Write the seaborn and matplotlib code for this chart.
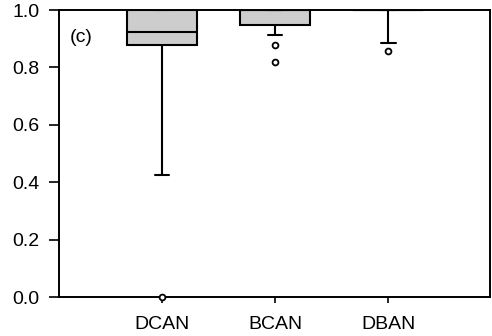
import matplotlib
matplotlib.use("Agg")
import matplotlib.pyplot as plt
import seaborn as sns
import pandas as pd

# Per-compound ratio samples
dcan = [0.0, 0.425, 0.87, 0.90, 0.91, 0.938, 1.0, 1.0, 1.0, 1.0]
bcan = [0.819, 0.878, 0.913, 0.93, 0.946, 0.95,
        1.0, 1.0, 1.0, 1.0, 1.0, 1.0, 1.0, 1.0, 1.0, 1.0, 1.0, 1.0, 1.0, 1.0]
dban = [0.857, 0.885, 1.0, 1.0, 1.0, 1.0, 1.0, 1.0, 1.0, 1.0]

categories = ["DCAN", "BCAN", "DBAN"]
y_ticks = [0.0, 0.2, 0.4, 0.6, 0.8, 1.0]
panel_label = "(c)"

df = pd.DataFrame({
    "compound": ["DCAN"] * len(dcan) + ["BCAN"] * len(bcan) + ["DBAN"] * len(dban),
    "value": dcan + bcan + dban,
})

sns.set_style("ticks")
plt.rcParams["font.family"] = ["Liberation Sans", "DejaVu Sans"]

fig = plt.figure(figsize=(4.92, 3.36), dpi=100)
ax = fig.add_axes([0.12, 0.116, 0.876, 0.854])

lw = 1.5
sns.boxplot(
    data=df, x="compound", y="value", order=categories,
    color="#cdcdcd", saturation=1, width=0.62, whis=(10, 90),
    linewidth=lw, linecolor="black", ax=ax,
    capwidths=0.13,
    flierprops=dict(marker="o", markersize=4.2, markerfacecolor="white",
                    markeredgecolor="black", markeredgewidth=1.3),
    medianprops=dict(color="black", linewidth=lw),
)

# keep outlier markers whole where they sit on the frame
for line in ax.lines:
    if line.get_marker() == "o":
        line.set_clip_on(False)
        line.set_zorder(5)

ax.set_ylim(0, 1.0)
ax.set_xlim(-0.91, 2.9)
ax.set_yticks(y_ticks)
ax.set_yticklabels([f"{t:.1f}" for t in y_ticks])
ax.set_xlabel("")
ax.set_ylabel("")

for s in ax.spines.values():
    s.set_visible(True)
    s.set_linewidth(1.4)
    s.set_color("black")

ax.tick_params(axis="y", direction="out", length=7, width=1.2, pad=7,
               labelsize=14, colors="black")
ax.tick_params(axis="x", direction="out", length=4, width=1.2, pad=10,
               labelsize=14, colors="black")

ax.text(0.025, 0.905, panel_label, transform=ax.transAxes, fontsize=14,
        ha="left", va="center", color="black")

fig.savefig("out.png", dpi=100)
